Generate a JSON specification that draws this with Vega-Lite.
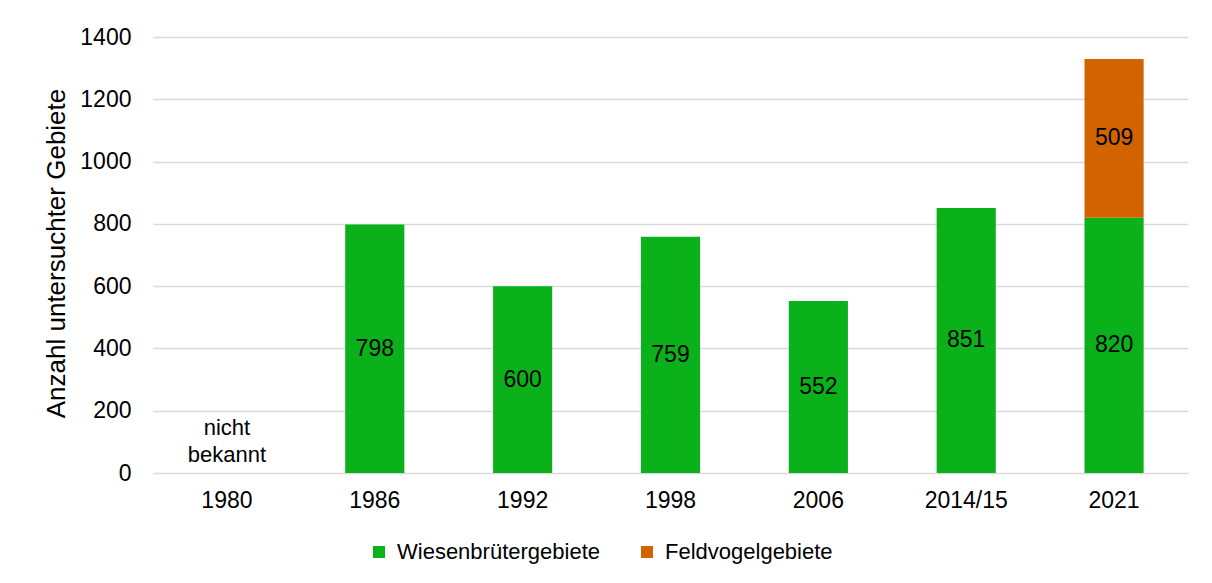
{
  "$schema": "https://vega.github.io/schema/vega-lite/v6.json",
  "width": 1035,
  "height": 436,
  "autosize": {"type": "none"},
  "padding": {"left": 153, "top": 37, "right": 24, "bottom": 110},
  "background": "white",
  "config": {
    "font": "Liberation Sans",
    "view": {"stroke": null},
    "text": {"lineBreak": "\n"}
  },
  "datasets": {
    "bars": [
      {"jahr": "1986", "gruppe": "Wiesenbrütergebiete", "anzahl": 798},
      {"jahr": "1992", "gruppe": "Wiesenbrütergebiete", "anzahl": 600},
      {"jahr": "1998", "gruppe": "Wiesenbrütergebiete", "anzahl": 759},
      {"jahr": "2006", "gruppe": "Wiesenbrütergebiete", "anzahl": 552},
      {"jahr": "2014/15", "gruppe": "Wiesenbrütergebiete", "anzahl": 851},
      {"jahr": "2021", "gruppe": "Wiesenbrütergebiete", "anzahl": 820},
      {"jahr": "2021", "gruppe": "Feldvogelgebiete", "anzahl": 509}
    ],
    "notes": [
      {"jahr": "1980", "note": "nicht\nbekannt"}
    ]
  },
  "encoding": {
    "x": {
      "field": "jahr",
      "type": "nominal",
      "sort": ["1980", "1986", "1992", "1998", "2006", "2014/15", "2021"],
      "scale": {"domain": ["1980", "1986", "1992", "1998", "2006", "2014/15", "2021"], "paddingInner": 0.6, "paddingOuter": 0.3},
      "axis": {
        "title": null,
        "labelAngle": 0,
        "labelFontSize": 23,
        "labelColor": "#000000",
        "labelPadding": 16,
        "domain": false,
        "ticks": false
      }
    }
  },
  "layer": [
    {
      "data": {"name": "bars"},
      "mark": {"type": "bar"},
      "encoding": {
        "y": {
          "field": "anzahl",
          "type": "quantitative",
          "stack": "zero",
          "scale": {"domain": [0, 1400]},
          "axis": {
            "title": "Anzahl untersuchter Gebiete",
            "titleFontSize": 26,
            "titleFontWeight": "normal",
            "titleColor": "#000000",
            "titleX": -97,
            "titleY": 216,
            "titleAngle": -90,
            "titleAlign": "center",
            "titleBaseline": "middle",
            "values": [0, 200, 400, 600, 800, 1000, 1200, 1400],
            "format": "d",
            "labelFontSize": 23,
            "labelColor": "#000000",
            "labelPadding": 22,
            "domain": false,
            "ticks": false,
            "gridColor": "#D9D9D9",
            "gridWidth": 1.5
          }
        },
        "color": {
          "field": "gruppe",
          "type": "nominal",
          "sort": ["Wiesenbrütergebiete", "Feldvogelgebiete"],
          "scale": {"domain": ["Wiesenbrütergebiete", "Feldvogelgebiete"], "range": ["#0BB11B", "#D26400"]},
          "legend": {
            "title": null,
            "orient": "none",
            "direction": "horizontal",
            "legendX": 215,
            "legendY": 504,
            "symbolType": "square",
            "symbolSize": 144,
            "symbolStrokeWidth": 0,
            "labelFontSize": 22,
            "labelColor": "#000000",
            "labelOffset": 7,
            "labelLimit": 0,
            "columnPadding": 35
          }
        }
      }
    },
    {
      "data": {"name": "bars"},
      "transform": [
        {"stack": "anzahl", "groupby": ["jahr"], "sort": [{"field": "gruppe", "order": "descending"}], "as": ["u0", "u1"]},
        {"calculate": "(datum.u0 + datum.u1) / 2", "as": "mitte"}
      ],
      "mark": {"type": "text", "fontSize": 23, "color": "#000000", "baseline": "middle"},
      "encoding": {
        "y": {"field": "mitte", "type": "quantitative"},
        "text": {"field": "anzahl", "type": "quantitative"}
      }
    },
    {
      "data": {"name": "notes"},
      "mark": {"type": "text", "fontSize": 22, "color": "#000000", "baseline": "middle", "lineHeight": 27},
      "encoding": {
        "y": {"datum": 144},
        "text": {"field": "note"}
      }
    }
  ]
}
